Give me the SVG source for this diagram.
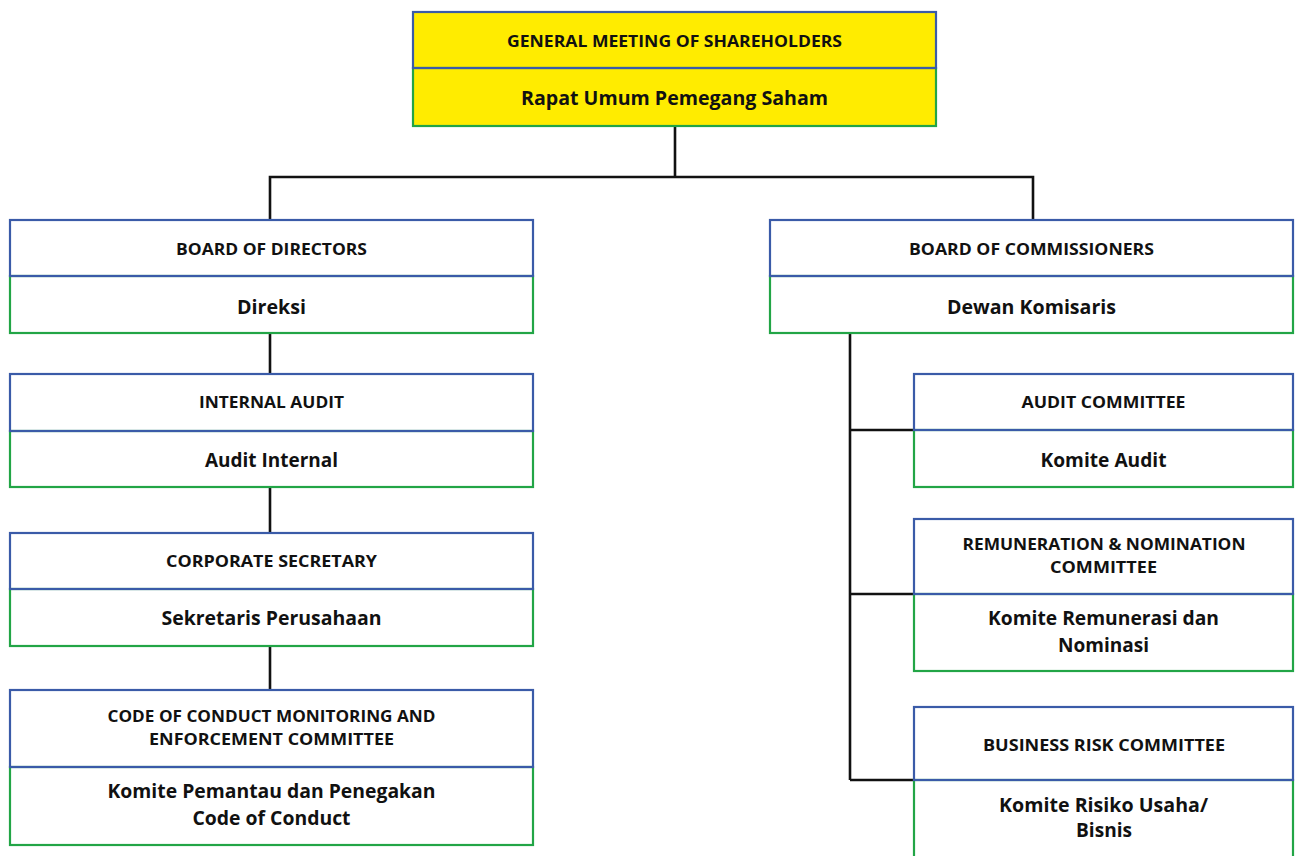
<svg xmlns="http://www.w3.org/2000/svg" width="1298" height="856" viewBox="0 0 1298 856">
  <style>
    .hd { fill: none; stroke: #3A5BA8; stroke-width: 2.2; }
    .bd { fill: none; stroke: #22A546; stroke-width: 2.2; }
    .fillw { fill: #FFFFFF; }
    .filly { fill: #FFEC00; }
    .cap { font-family: "Open Sans", "Liberation Sans", sans-serif; font-weight: 700; font-size: 16.5px; fill: #111; text-anchor: middle; }
    .sub { font-family: "Open Sans", "Liberation Sans", sans-serif; font-weight: 700; font-size: 20px; fill: #111; text-anchor: middle; }
    .wire { fill: none; stroke: #111; stroke-width: 2.6; }
  </style>
  <rect width="1298" height="856" fill="#FFFFFF"/>

  <!-- connectors -->
  <g id="connectors">
    <path class="wire" d="M675 126 V177 M270 220 V177 H1033 V220"/>
    <path class="wire" d="M270 333 V374 M270 487 V533 M270 646 V690"/>
    <path class="wire" d="M850 333 V780 M850 430 H914 M850 594 H914 M850 780 H914"/>
  </g>

  <!-- shareholders meeting -->
  <g id="gms">
    <rect class="filly" x="413" y="12" width="523" height="114"/>
    <rect class="bd" x="413" y="68" width="523" height="58"/>
    <rect class="hd" x="413" y="12" width="523" height="56"/>
    <text class="cap" x="674.5" y="47" textLength="335" lengthAdjust="spacingAndGlyphs">GENERAL MEETING OF SHAREHOLDERS</text>
    <text class="sub" x="674.5" y="105" textLength="307" lengthAdjust="spacingAndGlyphs">Rapat Umum Pemegang Saham</text>
  </g>

  <!-- left column -->
  <g id="directors">
    <rect class="fillw" x="10" y="220" width="523" height="113"/>
    <rect class="bd" x="10" y="276" width="523" height="57"/>
    <rect class="hd" x="10" y="220" width="523" height="56"/>
    <text class="cap" x="271.5" y="255" textLength="191" lengthAdjust="spacingAndGlyphs">BOARD OF DIRECTORS</text>
    <text class="sub" x="271.5" y="314" textLength="69" lengthAdjust="spacingAndGlyphs">Direksi</text>
  </g>

  <g id="internal-audit">
    <rect class="fillw" x="10" y="374" width="523" height="113"/>
    <rect class="bd" x="10" y="431" width="523" height="56"/>
    <rect class="hd" x="10" y="374" width="523" height="57"/>
    <text class="cap" x="271.5" y="408" textLength="145" lengthAdjust="spacingAndGlyphs">INTERNAL AUDIT</text>
    <text class="sub" x="271.5" y="467" textLength="133" lengthAdjust="spacingAndGlyphs">Audit Internal</text>
  </g>

  <g id="corporate-secretary">
    <rect class="fillw" x="10" y="533" width="523" height="113"/>
    <rect class="bd" x="10" y="589" width="523" height="57"/>
    <rect class="hd" x="10" y="533" width="523" height="56"/>
    <text class="cap" x="271.5" y="567" textLength="211" lengthAdjust="spacingAndGlyphs">CORPORATE SECRETARY</text>
    <text class="sub" x="271.5" y="625" textLength="220" lengthAdjust="spacingAndGlyphs">Sekretaris Perusahaan</text>
  </g>

  <g id="coc-committee">
    <rect class="fillw" x="10" y="690" width="523" height="155"/>
    <rect class="bd" x="10" y="767" width="523" height="78"/>
    <rect class="hd" x="10" y="690" width="523" height="77"/>
    <text class="cap" x="271.5" y="722" textLength="328" lengthAdjust="spacingAndGlyphs">CODE OF CONDUCT MONITORING AND</text>
    <text class="cap" x="271.5" y="745" textLength="245" lengthAdjust="spacingAndGlyphs">ENFORCEMENT COMMITTEE</text>
    <text class="sub" x="271.5" y="798" textLength="328" lengthAdjust="spacingAndGlyphs">Komite Pemantau dan Penegakan</text>
    <text class="sub" x="271.5" y="825" textLength="158" lengthAdjust="spacingAndGlyphs">Code of Conduct</text>
  </g>

  <!-- right column -->
  <g id="commissioners">
    <rect class="fillw" x="770" y="220" width="523" height="113"/>
    <rect class="bd" x="770" y="276" width="523" height="57"/>
    <rect class="hd" x="770" y="220" width="523" height="56"/>
    <text class="cap" x="1031.5" y="255" textLength="245" lengthAdjust="spacingAndGlyphs">BOARD OF COMMISSIONERS</text>
    <text class="sub" x="1031.5" y="314" textLength="169" lengthAdjust="spacingAndGlyphs">Dewan Komisaris</text>
  </g>

  <g id="audit-committee">
    <rect class="fillw" x="914" y="374" width="379" height="113"/>
    <rect class="bd" x="914" y="430" width="379" height="57"/>
    <rect class="hd" x="914" y="374" width="379" height="56"/>
    <text class="cap" x="1103.5" y="408" textLength="164" lengthAdjust="spacingAndGlyphs">AUDIT COMMITTEE</text>
    <text class="sub" x="1103.5" y="467" textLength="126" lengthAdjust="spacingAndGlyphs">Komite Audit</text>
  </g>

  <g id="remuneration-committee">
    <rect class="fillw" x="914" y="519" width="379" height="152"/>
    <rect class="bd" x="914" y="594" width="379" height="77"/>
    <rect class="hd" x="914" y="519" width="379" height="75"/>
    <text class="cap" x="1104" y="550" textLength="283" lengthAdjust="spacingAndGlyphs">REMUNERATION &amp; NOMINATION</text>
    <text class="cap" x="1103.5" y="573" textLength="107" lengthAdjust="spacingAndGlyphs">COMMITTEE</text>
    <text class="sub" x="1103.5" y="625" textLength="231" lengthAdjust="spacingAndGlyphs">Komite Remunerasi dan</text>
    <text class="sub" x="1103.5" y="652" textLength="91" lengthAdjust="spacingAndGlyphs">Nominasi</text>
  </g>

  <g id="business-risk-committee">
    <rect class="fillw" x="914" y="707" width="379" height="160"/>
    <rect class="bd" x="914" y="780" width="379" height="87"/>
    <rect class="hd" x="914" y="707" width="379" height="73"/>
    <text class="cap" x="1104" y="751" textLength="242" lengthAdjust="spacingAndGlyphs">BUSINESS RISK COMMITTEE</text>
    <text class="sub" x="1103.5" y="812" textLength="209" lengthAdjust="spacingAndGlyphs">Komite Risiko Usaha/</text>
    <text class="sub" x="1104" y="837" textLength="56" lengthAdjust="spacingAndGlyphs">Bisnis</text>
  </g>
</svg>
